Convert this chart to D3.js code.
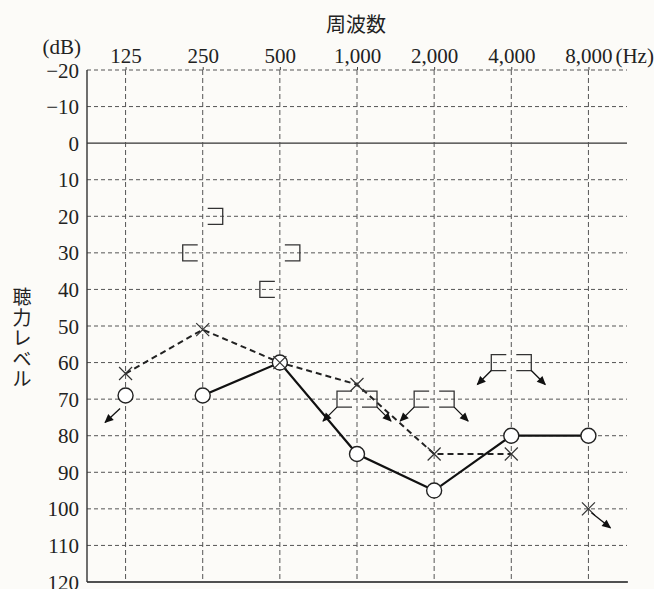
<!DOCTYPE html>
<html>
<head>
<meta charset="utf-8">
<script src="https://cdn.jsdelivr.net/npm/d3@7"></script>
<style>
  body { margin: 0; background: #fcfbf8; }
  svg { display: block; }
  .num { font-family: "Liberation Serif", "DejaVu Serif", serif; font-size: 21px; fill: #222; }
  .jp { font-family: "Noto Sans CJK JP", sans-serif; fill: #222; }
</style>
</head>
<body>
<div id="canvas"></div>
<script>
// audiogram values (dB HL), one per frequency
const freqs = ["125", "250", "500", "1,000", "2,000", "4,000", "8,000"];
const dbTicks = [-20, -10, 0, 10, 20, 30, 40, 50, 60, 70, 80, 90, 100, 110, 120];
const rightAir = [69, 69, 60, 85, 95, 80, 80];      // O
const leftAir = [63, 51, 60, 66, 85, 85, 100];      // X
const rightBone = [null, 30, 40, 70, 70, 60, null]; // [
const leftBone = [null, 20, 30, 70, 70, 60, null];  // ]
const rightAirOut = [true, false, false, false, false, false, false];
const leftAirOut = [false, false, false, false, false, false, true];
const boneOut = [false, false, false, true, true, true, false];
const rightAirLinked = [false, true, true, true, true, true, true];
const leftAirLinked = [true, true, true, true, true, true, false];

let width = 654, height = 589
  , margin = { left: 87, right: 27, top: 70, bottom: 7 };

let svg = d3.select("#canvas").append("svg")
  .attr("width", width)
  .attr("height", height);

svg.append("defs").append("marker")
  .attr("id", "arr")
  .attr("markerUnits", "userSpaceOnUse")
  .attr("viewBox", "0 0 10 10")
  .attr("refX", 9).attr("refY", 5)
  .attr("markerWidth", 10).attr("markerHeight", 9)
  .attr("orient", "auto")
  .append("path")
  .attr("d", "M0,0.5 L10,5 L0,9.5 Z")
  .attr("fill", "#111");

let x = d3.scalePoint()
  .domain(freqs)
  .range([margin.left, width - margin.right])
  .padding(0.5);

let y = d3.scaleLinear()
  .domain([-20, 120])
  .range([margin.top, height - margin.bottom]);

let grid = svg.append("g");

// horizontal grid
grid.selectAll("line.h")
  .data(dbTicks)
  .enter().append("line")
  .attr("x1", margin.left).attr("x2", width - margin.right)
  .attr("y1", d => y(d)).attr("y2", d => y(d))
  .attr("stroke", d => d === 0 ? "#333" : "#555")
  .attr("stroke-width", d => d === 0 ? 1.4 : 1)
  .attr("stroke-dasharray", d => (d === 0 || d === 120) ? null : "4,3");

// vertical grid
grid.selectAll("line.v")
  .data(freqs)
  .enter().append("line")
  .attr("x1", d => x(d)).attr("x2", d => x(d))
  .attr("y1", y(-20)).attr("y2", y(120))
  .attr("stroke", "#555")
  .attr("stroke-width", 1)
  .attr("stroke-dasharray", "5,3");

// frame: left and bottom
svg.append("line")
  .attr("x1", margin.left).attr("x2", margin.left)
  .attr("y1", y(-20)).attr("y2", y(120))
  .attr("stroke", "#333").attr("stroke-width", 1.4);
svg.append("line")
  .attr("x1", margin.left).attr("x2", width - margin.right + 1)
  .attr("y1", y(120)).attr("y2", y(120))
  .attr("stroke", "#333").attr("stroke-width", 1.4);

// axes
let yAxis = svg.append("g")
  .attr("transform", "translate(" + margin.left + ",0)")
  .call(d3.axisLeft(y).tickValues(dbTicks).tickSize(0).tickPadding(8));
yAxis.select(".domain").remove();
yAxis.selectAll("text").attr("class", "num").attr("dy", "0.34em");

let xAxis = svg.append("g")
  .attr("transform", "translate(0," + y(-20) + ")")
  .call(d3.axisTop(x).tickSize(3).tickPadding(4));
xAxis.select(".domain").remove();
xAxis.selectAll(".tick line").attr("stroke", "#444");
xAxis.selectAll("text").attr("class", "num");

svg.append("text").attr("class", "num")
  .attr("x", x("8,000") + 27).attr("y", y(-20) - 7)
  .text("(Hz)");
svg.append("text").attr("class", "num")
  .attr("x", 81).attr("y", 54)
  .attr("text-anchor", "end")
  .text("(dB)");

svg.append("text").attr("class", "jp")
  .attr("x", 356).attr("y", 32)
  .attr("text-anchor", "middle")
  .style("font-size", "20px")
  .text("周波数");

svg.append("g").selectAll("text")
  .data("聴力レベル".split(""))
  .enter().append("text")
  .attr("class", "jp")
  .attr("x", 22)
  .attr("y", (d, i) => 304 + i * 20.5)
  .attr("text-anchor", "middle")
  .style("font-size", "19px")
  .text(d => d);

// air conduction lines
let pts = (vals, linked) => freqs.map((f, i) => ({ f: f, v: vals[i], on: linked[i] }));
let line = d3.line()
  .defined(d => d.on)
  .x(d => x(d.f))
  .y(d => y(d.v));

svg.append("path")
  .datum(pts(leftAir, leftAirLinked))
  .attr("d", line)
  .attr("fill", "none")
  .attr("stroke", "#222")
  .attr("stroke-width", 2)
  .attr("stroke-dasharray", "6,4");

svg.append("path")
  .datum(pts(rightAir, rightAirLinked))
  .attr("d", line)
  .attr("fill", "none")
  .attr("stroke", "#111")
  .attr("stroke-width", 2.2);

// circles (right air)
svg.selectAll("circle.o")
  .data(freqs)
  .enter().append("circle")
  .attr("cx", d => x(d))
  .attr("cy", (d, i) => y(rightAir[i]))
  .attr("r", 7.5)
  .attr("fill", "#fff")
  .attr("stroke", "#222")
  .attr("stroke-width", 1.4);

// crosses (left air)
svg.selectAll("path.x")
  .data(freqs)
  .enter().append("path")
  .attr("d", (d, i) => {
    let cx = x(d), cy = y(leftAir[i]), s = 6.5;
    return "M" + (cx - s) + "," + (cy - s) + "L" + (cx + s) + "," + (cy + s)
      + "M" + (cx - s) + "," + (cy + s) + "L" + (cx + s) + "," + (cy - s);
  })
  .attr("stroke", "#333")
  .attr("stroke-width", 1.2)
  .attr("fill", "none");

// bone conduction brackets
let bw = 15, bh = 16, gap = 5;
let rb = freqs.map((f, i) => ({ f: f, v: rightBone[i], out: boneOut[i] })).filter(d => d.v !== null);
let lb = freqs.map((f, i) => ({ f: f, v: leftBone[i], out: boneOut[i] })).filter(d => d.v !== null);

svg.selectAll("path.rb")
  .data(rb)
  .enter().append("path")
  .attr("d", d => {
    let r = x(d.f) - gap, l = r - bw, cy = y(d.v);
    return "M" + r + "," + (cy - bh / 2) + "H" + l + "V" + (cy + bh / 2) + "H" + r;
  })
  .attr("fill", "none").attr("stroke", "#333").attr("stroke-width", 1.3);

svg.selectAll("path.lb")
  .data(lb)
  .enter().append("path")
  .attr("d", d => {
    let l = x(d.f) + gap, r = l + bw, cy = y(d.v);
    return "M" + l + "," + (cy - bh / 2) + "H" + r + "V" + (cy + bh / 2) + "H" + l;
  })
  .attr("fill", "none").attr("stroke", "#333").attr("stroke-width", 1.3);

// scale-out arrows
let arrows = svg.append("g")
  .attr("stroke", "#111").attr("stroke-width", 1.3);

rb.filter(d => d.out).forEach(d => {
  let sx = x(d.f) - gap - bw, sy = y(d.v) + bh / 2;
  arrows.append("line").attr("x1", sx).attr("y1", sy)
    .attr("x2", sx - 14).attr("y2", sy + 14).attr("marker-end", "url(#arr)");
});
lb.filter(d => d.out).forEach(d => {
  let sx = x(d.f) + gap + bw, sy = y(d.v) + bh / 2;
  arrows.append("line").attr("x1", sx).attr("y1", sy)
    .attr("x2", sx + 14).attr("y2", sy + 14).attr("marker-end", "url(#arr)");
});
freqs.forEach((f, i) => {
  if (rightAirOut[i]) {
    let cx = x(f), cy = y(rightAir[i]);
    arrows.append("line").attr("x1", cx - 5.5).attr("y1", cy + 13)
      .attr("x2", cx - 20.5).attr("y2", cy + 27).attr("marker-end", "url(#arr)");
  }
  if (leftAirOut[i]) {
    let cx = x(f), cy = y(leftAir[i]);
    arrows.append("line").attr("x1", cx + 3).attr("y1", cy + 4)
      .attr("x2", cx + 22).attr("y2", cy + 19).attr("marker-end", "url(#arr)");
  }
});
</script>
</body>
</html>
